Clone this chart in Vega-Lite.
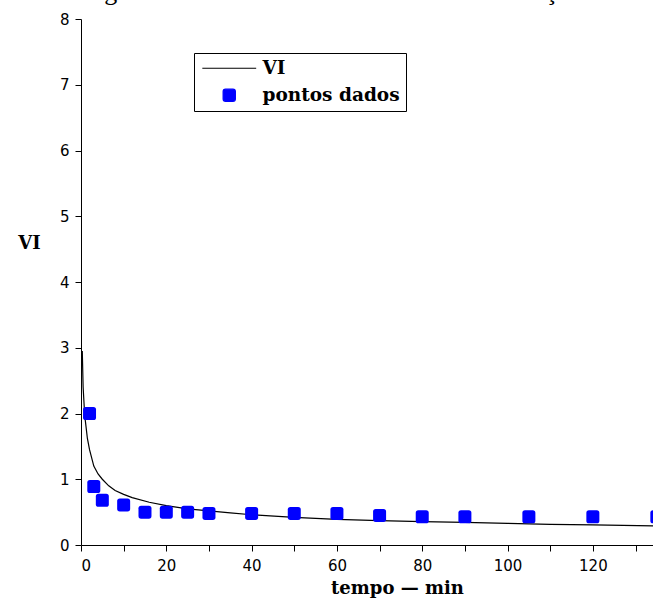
{
  "$schema": "https://vega.github.io/schema/vega-lite/v6.json",
  "autosize": "none",
  "padding": {"left": 81, "top": 19, "right": 0, "bottom": 63},
  "width": 572,
  "height": 526,
  "background": "white",
  "title": {
    "text": "Figura 5.11 - Curva da velocidade de infiltração",
    "font": "Liberation Serif",
    "fontSize": 26,
    "fontWeight": "normal",
    "color": "black",
    "anchor": "middle",
    "frame": "group",
    "baseline": "alphabetic",
    "offset": 10,
    "dx": -35,
    "dy": 24
  },
  "config": {
    "view": {"stroke": null},
    "axis": {
      "domainColor": "black",
      "tickColor": "black",
      "labelColor": "black",
      "titleColor": "black",
      "grid": false,
      "tickSize": 6,
      "labelFont": "DejaVu Sans",
      "labelFontSize": 15,
      "titleFont": "DejaVu Serif",
      "titleFontSize": 18,
      "titleFontWeight": "bold"
    }
  },
  "datasets": {
    "curve": [
      {"t": 0.3, "v": 2.95, "serie": "VI"},
      {"t": 0.5, "v": 2.4, "serie": "VI"},
      {"t": 0.8, "v": 2.05, "serie": "VI"},
      {"t": 1, "v": 1.9, "serie": "VI"},
      {"t": 1.5, "v": 1.62, "serie": "VI"},
      {"t": 2, "v": 1.45, "serie": "VI"},
      {"t": 3, "v": 1.2, "serie": "VI"},
      {"t": 4, "v": 1.08, "serie": "VI"},
      {"t": 5, "v": 1.0, "serie": "VI"},
      {"t": 6.5, "v": 0.9, "serie": "VI"},
      {"t": 8, "v": 0.83, "serie": "VI"},
      {"t": 10, "v": 0.77, "serie": "VI"},
      {"t": 12, "v": 0.72, "serie": "VI"},
      {"t": 16, "v": 0.65, "serie": "VI"},
      {"t": 20, "v": 0.6, "serie": "VI"},
      {"t": 25, "v": 0.55, "serie": "VI"},
      {"t": 30, "v": 0.52, "serie": "VI"},
      {"t": 35, "v": 0.49, "serie": "VI"},
      {"t": 40, "v": 0.46, "serie": "VI"},
      {"t": 50, "v": 0.42, "serie": "VI"},
      {"t": 60, "v": 0.39, "serie": "VI"},
      {"t": 70, "v": 0.37, "serie": "VI"},
      {"t": 80, "v": 0.355, "serie": "VI"},
      {"t": 90, "v": 0.345, "serie": "VI"},
      {"t": 100, "v": 0.33, "serie": "VI"},
      {"t": 110, "v": 0.315, "serie": "VI"},
      {"t": 120, "v": 0.305, "serie": "VI"},
      {"t": 135, "v": 0.29, "serie": "VI"}
    ],
    "pontos": [
      {"t": 2, "v": 2.0, "serie": "pontos dados"},
      {"t": 3, "v": 0.89, "serie": "pontos dados"},
      {"t": 5, "v": 0.68, "serie": "pontos dados"},
      {"t": 10, "v": 0.61, "serie": "pontos dados"},
      {"t": 15, "v": 0.5, "serie": "pontos dados"},
      {"t": 20, "v": 0.5, "serie": "pontos dados"},
      {"t": 25, "v": 0.5, "serie": "pontos dados"},
      {"t": 30, "v": 0.48, "serie": "pontos dados"},
      {"t": 40, "v": 0.48, "serie": "pontos dados"},
      {"t": 50, "v": 0.48, "serie": "pontos dados"},
      {"t": 60, "v": 0.48, "serie": "pontos dados"},
      {"t": 70, "v": 0.45, "serie": "pontos dados"},
      {"t": 80, "v": 0.43, "serie": "pontos dados"},
      {"t": 90, "v": 0.43, "serie": "pontos dados"},
      {"t": 105, "v": 0.43, "serie": "pontos dados"},
      {"t": 120, "v": 0.43, "serie": "pontos dados"},
      {"t": 135, "v": 0.43, "serie": "pontos dados"}
    ]
  },
  "encoding": {
    "x": {
      "field": "t",
      "type": "quantitative",
      "scale": {"domain": [0, 134.1], "nice": false, "zero": false},
      "axis": {
        "title": "tempo — min",
        "values": [0, 10, 20, 30, 40, 50, 60, 70, 80, 90, 100, 110, 120, 130],
        "labelExpr": "datum.value % 20 == 0 ? datum.label : ''",
        "labelPadding": 7,
        "titleX": 316,
        "titleY": 48,
        "titleAlign": "center",
        "titleBaseline": "alphabetic"
      }
    },
    "y": {
      "field": "v",
      "type": "quantitative",
      "scale": {"domain": [0, 8], "nice": false},
      "axis": {
        "title": "VI",
        "values": [0, 1, 2, 3, 4, 5, 6, 7, 8],
        "labelPadding": 6,
        "titleAngle": 0,
        "titleX": -52,
        "titleY": 224,
        "titleAlign": "center",
        "titleBaseline": "middle"
      }
    },
    "color": {
      "field": "serie",
      "type": "nominal",
      "scale": {"domain": ["VI", "pontos dados"], "range": ["black", "#0000ff"]},
      "legend": {
        "title": null,
        "orient": "none",
        "legendX": 113,
        "legendY": 34,
        "strokeColor": "black",
        "fillColor": "white",
        "padding": 6,
        "labelFont": "DejaVu Serif",
        "labelFontWeight": "bold",
        "labelFontSize": 18.5,
        "labelColor": "black",
        "labelOffset": 24,
        "symbolOffset": 20,
        "rowPadding": 8,
        "symbolSize": 2900,
        "encode": {
          "symbols": {
            "update": {
              "shape": {"signal": "datum.value === 'VI' ? 'stroke' : 'M-1,-0.6Q-1,-1,-0.6,-1L0.6,-1Q1,-1,1,-0.6L1,0.6Q1,1,0.6,1L-0.6,1Q-1,1,-1,0.6Z'"},
              "size": {"signal": "datum.value === 'VI' ? 2900 : 150"},
              "fill": {"signal": "datum.value === 'VI' ? 'transparent' : '#0000ff'"},
              "stroke": {"signal": "datum.value === 'VI' ? 'black' : 'transparent'"},
              "strokeWidth": {"value": 1.2},
              "opacity": {"value": 1}
            }
          }
        }
      }
    }
  },
  "layer": [
    {
      "data": {"name": "curve"},
      "mark": {"type": "line", "strokeWidth": 1.2, "clip": true}
    },
    {
      "data": {"name": "pontos"},
      "mark": {
        "type": "point",
        "filled": true,
        "opacity": 1,
        "size": 169,
        "clip": true,
        "shape": "M-1,-0.6Q-1,-1,-0.6,-1L0.6,-1Q1,-1,1,-0.6L1,0.6Q1,1,0.6,1L-0.6,1Q-1,1,-1,0.6Z"
      }
    }
  ]
}
